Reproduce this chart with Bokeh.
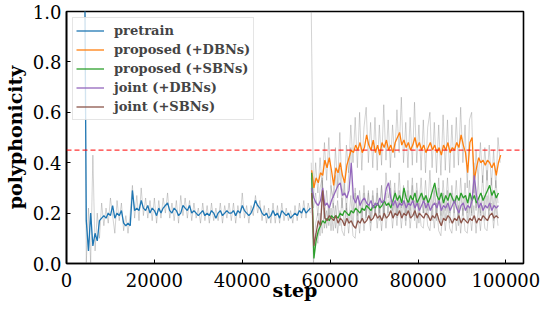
import numpy as np
from bokeh.plotting import figure
from bokeh.models import Span, FixedTicker, PrintfTickFormatter, Range1d
from bokeh.embed import file_html
from bokeh.resources import INLINE

# ---------------- data ----------------
STEP_SPACING = 500
PRETRAIN_START = 4000
FINETUNE_START = 55800
RAW_FT_START = 55700
THRESHOLD = 0.45

pretrain_smooth = [
    1.6, 0.17, 0.05, 0.20, 0.07, 0.12, 0.09, 0.17, 0.18, 0.19, 0.18, 0.20, 0.19, 0.23, 0.18, 0.20,
    0.19, 0.21, 0.16, 0.15, 0.16, 0.15, 0.29, 0.21, 0.22, 0.21, 0.25, 0.22, 0.21, 0.23, 0.20, 0.22,
    0.21, 0.19, 0.22, 0.20, 0.22, 0.23, 0.24, 0.21, 0.20, 0.22, 0.21, 0.19, 0.20, 0.23, 0.22, 0.21,
    0.23, 0.20, 0.21, 0.20, 0.19, 0.20, 0.21, 0.19, 0.20, 0.19, 0.21, 0.20, 0.18, 0.20, 0.21, 0.19,
    0.20, 0.21, 0.20, 0.20, 0.21, 0.19, 0.21, 0.20, 0.23, 0.21, 0.20, 0.19, 0.20, 0.22, 0.25, 0.23,
    0.22, 0.20, 0.19, 0.20, 0.18, 0.19, 0.21, 0.19, 0.20, 0.18, 0.21, 0.20, 0.19, 0.20, 0.18, 0.19,
    0.20, 0.19, 0.21, 0.20, 0.22, 0.20, 0.21, 0.22,
]
pretrain_raw = [
    1.6, 0.00, 0.22, 0.00, 0.43, 0.05, 0.20, 0.10, 0.24, 0.15, 0.22, 0.16, 0.26, 0.19, 0.12, 0.25,
    0.17, 0.24, 0.13, 0.19, 0.12, 0.20, 0.31, 0.18, 0.27, 0.17, 0.30, 0.19, 0.26, 0.18, 0.25, 0.17,
    0.26, 0.16, 0.25, 0.18, 0.26, 0.20, 0.28, 0.18, 0.24, 0.17, 0.25, 0.16, 0.27, 0.19, 0.26, 0.18,
    0.25, 0.17, 0.24, 0.18, 0.22, 0.16, 0.24, 0.17, 0.23, 0.16, 0.24, 0.17, 0.22, 0.17, 0.24, 0.16,
    0.23, 0.18, 0.24, 0.17, 0.24, 0.16, 0.23, 0.18, 0.28, 0.18, 0.23, 0.16, 0.23, 0.19, 0.27, 0.20,
    0.25, 0.17, 0.23, 0.16, 0.22, 0.16, 0.24, 0.16, 0.23, 0.16, 0.24, 0.17, 0.22, 0.17, 0.21, 0.16,
    0.23, 0.17, 0.24, 0.18, 0.25, 0.18, 0.24, 0.20,
]

proposed_dbn = [
    0.37, 0.30, 0.34, 0.32, 0.36, 0.35, 0.41, 0.38, 0.42, 0.37, 0.31, 0.38, 0.36, 0.40, 0.35, 0.32,
    0.39, 0.42, 0.45, 0.44, 0.47, 0.45, 0.48, 0.44, 0.46, 0.51, 0.47, 0.45, 0.49, 0.44, 0.47, 0.43,
    0.48, 0.46, 0.49, 0.45, 0.47, 0.44, 0.48, 0.50, 0.52, 0.47, 0.49, 0.46, 0.48, 0.45, 0.47, 0.50,
    0.46, 0.48, 0.45, 0.47, 0.44, 0.46, 0.48, 0.45, 0.47, 0.44, 0.46, 0.43, 0.47, 0.45, 0.48, 0.44,
    0.46, 0.45, 0.48, 0.46, 0.51, 0.47, 0.44, 0.36, 0.48, 0.50, 0.33, 0.38, 0.42, 0.40, 0.41, 0.39,
    0.41, 0.40, 0.38, 0.40, 0.35, 0.40, 0.43,
]
proposed_sbn = [
    0.36, 0.02, 0.09, 0.13, 0.15, 0.17, 0.16, 0.18, 0.17, 0.19, 0.18, 0.19, 0.18, 0.20, 0.19, 0.21,
    0.20, 0.19, 0.21, 0.20, 0.22, 0.21, 0.20, 0.22, 0.21, 0.23, 0.22, 0.21, 0.23, 0.22, 0.24, 0.22,
    0.23, 0.25, 0.23, 0.24, 0.22, 0.25, 0.28, 0.25, 0.27, 0.24, 0.30, 0.26, 0.24, 0.27, 0.25, 0.28,
    0.24, 0.26, 0.28, 0.25, 0.27, 0.24, 0.26, 0.29, 0.32, 0.27, 0.25, 0.28, 0.24, 0.27, 0.25, 0.28,
    0.26, 0.24, 0.27, 0.25, 0.28, 0.26, 0.27, 0.24, 0.28, 0.25, 0.27, 0.24, 0.26, 0.28, 0.25, 0.27,
    0.29, 0.31, 0.27, 0.29, 0.26, 0.28,
]
joint_dbn = [
    0.30, 0.26, 0.24, 0.23, 0.25, 0.30, 0.23, 0.24, 0.22, 0.25, 0.27, 0.29, 0.31, 0.32, 0.27, 0.28,
    0.26, 0.29, 0.40, 0.26, 0.24, 0.27, 0.23, 0.25, 0.26, 0.24, 0.23, 0.25, 0.22, 0.24, 0.23, 0.26,
    0.24, 0.25, 0.30, 0.32, 0.26, 0.23, 0.25, 0.22, 0.24, 0.23, 0.25, 0.22, 0.24, 0.23, 0.25, 0.22,
    0.24, 0.21, 0.23, 0.25, 0.22, 0.24, 0.21, 0.23, 0.24, 0.22, 0.25, 0.21, 0.23, 0.22, 0.24, 0.21,
    0.23, 0.25, 0.22, 0.20, 0.23, 0.24, 0.21, 0.23, 0.22, 0.25, 0.35, 0.27, 0.22, 0.24, 0.21, 0.23,
    0.22, 0.24, 0.21, 0.23, 0.22, 0.23,
]
joint_sbn = [
    0.28, 0.07, 0.12, 0.17, 0.15, 0.29, 0.18, 0.17, 0.19, 0.18, 0.17, 0.19, 0.16, 0.18, 0.17, 0.15,
    0.18, 0.16, 0.17, 0.15, 0.14, 0.17, 0.16, 0.18, 0.16, 0.17, 0.19, 0.17, 0.18, 0.20, 0.18, 0.19,
    0.17, 0.20, 0.18, 0.19, 0.21, 0.18, 0.20, 0.19, 0.21, 0.18, 0.20, 0.19, 0.21, 0.18, 0.19, 0.21,
    0.18, 0.20, 0.19, 0.18, 0.20, 0.19, 0.17, 0.19, 0.18, 0.20, 0.17, 0.15, 0.18, 0.17, 0.19, 0.18,
    0.16, 0.18, 0.17, 0.19, 0.16, 0.18, 0.17, 0.16, 0.18, 0.17, 0.19, 0.16, 0.18, 0.17, 0.19, 0.18,
    0.17, 0.19, 0.20, 0.18, 0.19, 0.18,
]

proposed_dbn_raw = [
    1.00, 0.26, 0.40, 0.28, 0.42, 0.30, 0.48, 0.33, 0.50, 0.30, 0.26, 0.46, 0.31, 0.52, 0.30, 0.27,
    0.47, 0.36, 0.55, 0.40, 0.58, 0.38, 0.60, 0.37, 0.54, 0.62, 0.40, 0.56, 0.38, 0.58, 0.37, 0.55,
    0.39, 0.63, 0.41, 0.57, 0.38, 0.55, 0.42, 0.61, 0.44, 0.66, 0.40, 0.56, 0.38, 0.58, 0.39, 0.64,
    0.40, 0.55, 0.37, 0.57, 0.36, 0.54, 0.60, 0.38, 0.56, 0.36, 0.55, 0.35, 0.59, 0.37, 0.57, 0.36,
    0.55, 0.38, 0.58, 0.39, 0.62, 0.40, 0.55, 0.30, 0.57, 0.60, 0.28, 0.45, 0.33, 0.48, 0.32, 0.46,
    0.33, 0.47, 0.31, 0.45, 0.30, 0.50, 0.40,
]
proposed_sbn_raw = [
    0.40, 0.00, 0.12, 0.08, 0.20, 0.12, 0.22, 0.14, 0.23, 0.13, 0.24, 0.14, 0.25, 0.15, 0.26, 0.15,
    0.24, 0.16, 0.27, 0.15, 0.28, 0.16, 0.25, 0.17, 0.28, 0.18, 0.29, 0.16, 0.27, 0.19, 0.30, 0.17,
    0.31, 0.18, 0.28, 0.20, 0.33, 0.21, 0.32, 0.19, 0.36, 0.22, 0.31, 0.20, 0.33, 0.21, 0.34, 0.19,
    0.32, 0.22, 0.34, 0.20, 0.33, 0.21, 0.37, 0.22, 0.31, 0.20, 0.34, 0.19, 0.33, 0.21, 0.34, 0.20,
    0.31, 0.22, 0.33, 0.19, 0.34, 0.21, 0.32, 0.20, 0.33, 0.19, 0.32, 0.21, 0.33, 0.20, 0.35, 0.22,
    0.37, 0.21, 0.34, 0.22, 0.33, 0.24,
]
joint_dbn_raw = [
    0.34, 0.22, 0.28, 0.19, 0.30, 0.34, 0.18, 0.29, 0.18, 0.31, 0.22, 0.35, 0.26, 0.38, 0.22, 0.33,
    0.21, 0.35, 0.46, 0.20, 0.30, 0.19, 0.29, 0.20, 0.31, 0.19, 0.28, 0.18, 0.29, 0.19, 0.28, 0.20,
    0.31, 0.19, 0.36, 0.26, 0.30, 0.18, 0.29, 0.18, 0.29, 0.19, 0.30, 0.17, 0.29, 0.18, 0.31, 0.17,
    0.29, 0.16, 0.28, 0.20, 0.27, 0.18, 0.26, 0.17, 0.29, 0.17, 0.30, 0.16, 0.28, 0.17, 0.29, 0.16,
    0.28, 0.20, 0.27, 0.15, 0.28, 0.19, 0.26, 0.17, 0.27, 0.20, 0.40, 0.22, 0.26, 0.19, 0.27, 0.17,
    0.27, 0.18, 0.28, 0.17, 0.27, 0.18,
]
joint_sbn_raw = [
    0.30, 0.04, 0.16, 0.20, 0.11, 0.33, 0.14, 0.21, 0.15, 0.22, 0.13, 0.23, 0.12, 0.21, 0.13, 0.11,
    0.22, 0.12, 0.21, 0.11, 0.10, 0.21, 0.12, 0.22, 0.13, 0.21, 0.23, 0.13, 0.22, 0.24, 0.14, 0.23,
    0.13, 0.24, 0.14, 0.23, 0.25, 0.14, 0.24, 0.15, 0.25, 0.14, 0.24, 0.15, 0.25, 0.14, 0.23, 0.25,
    0.14, 0.24, 0.15, 0.14, 0.24, 0.15, 0.13, 0.23, 0.14, 0.24, 0.13, 0.11, 0.22, 0.13, 0.23, 0.14,
    0.12, 0.22, 0.13, 0.23, 0.12, 0.22, 0.13, 0.12, 0.22, 0.13, 0.23, 0.12, 0.22, 0.13, 0.23, 0.14,
    0.13, 0.23, 0.24, 0.14, 0.23, 0.15,
]

series_names = ["pretrain", "proposed (+DBNs)", "proposed (+SBNs)", "joint (+DBNs)", "joint (+SBNs)"]
series_colors = ["#1f77b4", "#ff7f0e", "#2ca02c", "#9467bd", "#8c564b"]
x_ticks = [0, 20000, 40000, 60000, 80000, 100000]
y_ticks = [0.0, 0.2, 0.4, 0.6, 0.8, 1.0]


def steps_for(start, vals):
    return start + STEP_SPACING * np.arange(len(vals))


SERIF = "DejaVu Serif"

p = figure(width=550, height=309, output_backend="svg", toolbar_location=None,
           x_range=Range1d(0, 104000), y_range=Range1d(0, 1.0),
           min_border_left=66, min_border_right=27, min_border_top=11, min_border_bottom=46)
p.background_fill_color = "white"
p.border_fill_color = "white"
p.xgrid.visible = False
p.ygrid.visible = False
p.outline_line_color = "black"
p.outline_line_width = 1.6

# raw (gray) curves
raw_sets = [(PRETRAIN_START, pretrain_raw), (RAW_FT_START, proposed_dbn_raw),
            (RAW_FT_START, proposed_sbn_raw), (RAW_FT_START, joint_dbn_raw),
            (RAW_FT_START, joint_sbn_raw)]
for start, vals in raw_sets:
    p.line(steps_for(start, vals), vals, line_color="gray", line_alpha=0.35, line_width=1)

# smoothed coloured curves
smooth_sets = [(PRETRAIN_START, pretrain_smooth), (FINETUNE_START, proposed_dbn),
               (FINETUNE_START, proposed_sbn), (FINETUNE_START, joint_dbn),
               (FINETUNE_START, joint_sbn)]
for (start, vals), name, col in zip(smooth_sets, series_names, series_colors):
    p.line(steps_for(start, vals), vals, line_color=col, line_width=1.3, legend_label=name)

p.add_layout(Span(location=THRESHOLD, dimension="width", line_color="red",
                  line_alpha=0.8, line_dash="5 3", line_width=1.3))

for ax in (p.xaxis[0], p.yaxis[0]):
    ax.major_tick_in = 4
    ax.major_tick_out = 0
    ax.minor_tick_line_color = None
    ax.axis_line_width = 1.6
    ax.major_tick_line_width = 1
    ax.major_label_text_font = SERIF
    ax.major_label_text_font_size = "18px"
    ax.major_label_text_color = "black"
    ax.axis_label_text_font = SERIF
    ax.axis_label_text_font_style = "bold"
    ax.axis_label_text_font_size = "19px"
    ax.axis_label_text_color = "black"

p.xaxis.ticker = FixedTicker(ticks=x_ticks)
p.xaxis.formatter = PrintfTickFormatter(format="%d")
p.yaxis.ticker = FixedTicker(ticks=y_ticks)
p.yaxis.formatter = PrintfTickFormatter(format="%.1f")
p.xaxis.axis_label = "step"
p.yaxis.axis_label = "polyphonicity"
p.xaxis.major_label_standoff = 9
p.xaxis.axis_label_standoff = -11
p.yaxis.major_label_standoff = 5
p.yaxis.axis_label_standoff = 4

lg = p.legend[0]
lg.location = "top_left"
lg.margin = 6
lg.padding = 3
lg.spacing = 0
lg.glyph_width = 28
lg.glyph_height = 19
lg.label_height = 19
lg.label_standoff = 10
lg.label_text_font = SERIF
lg.label_text_font_style = "bold"
lg.label_text_font_size = "13px"
lg.border_line_color = "#cccccc"
lg.border_line_width = 1
lg.background_fill_alpha = 0.8

open("out.html", "w").write(file_html(p, INLINE))
